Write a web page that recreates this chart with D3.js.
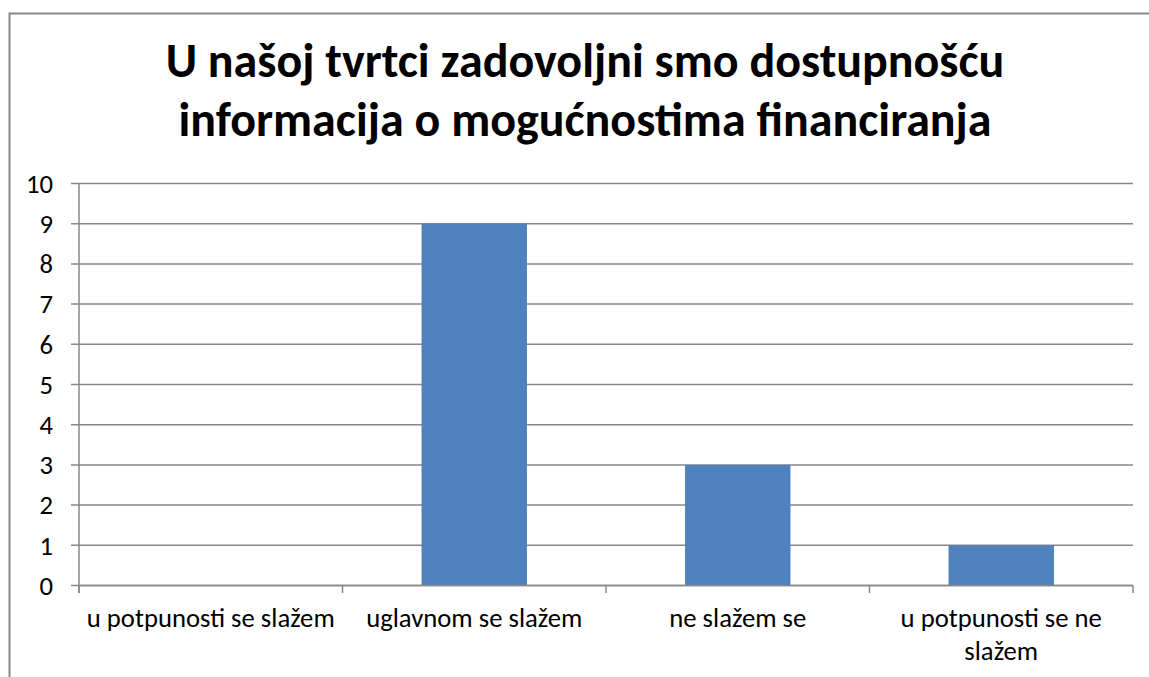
<!DOCTYPE html>
<html>
<head>
<meta charset="utf-8">
<script src="https://cdn.jsdelivr.net/npm/d3@7"></script>
<style>
  html, body { margin: 0; padding: 0; background: #fff; }
  svg { display: block; }
  text { font-family: Carlito, Lato, "Open Sans", sans-serif; fill: #000; }
</style>
</head>
<body>
<svg id="chart" width="1149" height="677"></svg>
<script>
// Survey answers and the number of firms giving each one
const categories = [
  "u potpunosti se slažem",
  "uglavnom se slažem",
  "ne slažem se",
  "u potpunosti se ne slažem"
];
const counts = [0, 9, 3, 1];
const yTicks = [0, 1, 2, 3, 4, 5, 6, 7, 8, 9, 10];
const titleLines = [
  "U našoj tvrtci zadovoljni smo dostupnošću",
  "informacija o mogućnostima financiranja"
];

const svg = d3.select("#chart");
const plot = { left: 79, right: 1133, top: 183.5, bottom: 585.5 };
const gridColor = "#888888";
const labelSize = 26.7;

// Outer chart frame
svg.append("rect")
  .attr("x", 9.5).attr("y", 13.5)
  .attr("width", 1170).attr("height", 700)
  .attr("fill", "none").attr("stroke", gridColor).attr("stroke-width", 2);

// Title
svg.append("g").selectAll("text")
  .data(titleLines)
  .join("text")
  .attr("x", 585)
  .attr("y", (d, i) => 77 + i * 59)
  .attr("text-anchor", "middle")
  .attr("font-weight", "bold")
  .attr("font-size", 48)
  .text(d => d);

const x = d3.scaleBand()
  .domain(categories)
  .range([plot.left, plot.right])
  .paddingInner(0.6)
  .paddingOuter(0.3);

const y = d3.scaleLinear()
  .domain([0, 10])
  .range([plot.bottom, plot.top]);

// Horizontal gridlines
svg.append("g").selectAll("line")
  .data(yTicks)
  .join("line")
  .attr("x1", plot.left - 8).attr("x2", plot.right)
  .attr("y1", d => y(d)).attr("y2", d => y(d))
  .attr("stroke", gridColor).attr("stroke-width", 1.5);

// Y axis line and labels
svg.append("line")
  .attr("x1", plot.left).attr("x2", plot.left)
  .attr("y1", plot.top).attr("y2", plot.bottom + 7.5)
  .attr("stroke", gridColor).attr("stroke-width", 1.5);

svg.append("g").selectAll("text")
  .data(yTicks)
  .join("text")
  .attr("x", 53)
  .attr("y", d => y(d))
  .attr("dy", "0.35em")
  .attr("text-anchor", "end")
  .attr("font-size", labelSize)
  .text(d => d);

// Category boundary ticks below the baseline
const step = x.step();
const bounds = d3.range(categories.length + 1).map(i => plot.left + i * step);
svg.append("g").selectAll("line")
  .data(bounds)
  .join("line")
  .attr("x1", d => d).attr("x2", d => d)
  .attr("y1", plot.bottom).attr("y2", plot.bottom + 7.5)
  .attr("stroke", gridColor).attr("stroke-width", 1.5);

// Bars
svg.append("g").selectAll("rect")
  .data(counts.map((v, i) => ({ c: categories[i], v })))
  .join("rect")
  .attr("x", d => x(d.c))
  .attr("y", d => y(d.v))
  .attr("width", x.bandwidth())
  .attr("height", d => y(0) - y(d.v))
  .attr("fill", "#4f81bd");

// Baseline drawn above bars
svg.append("line")
  .attr("x1", plot.left).attr("x2", plot.right)
  .attr("y1", y(0)).attr("y2", y(0))
  .attr("stroke", gridColor).attr("stroke-width", 1.5);

// Category labels, wrapped to the category width
const maxLabelW = step - 8;
const labels = svg.append("g").selectAll("text")
  .data(categories)
  .join("text")
  .attr("text-anchor", "middle")
  .attr("font-size", labelSize)
  .attr("x", d => x(d) + x.bandwidth() / 2)
  .attr("y", 627);

labels.each(function(d) {
  const t = d3.select(this);
  const words = d.split(" ");
  const lines = [];
  let cur = [];
  const probe = t.append("tspan");
  words.forEach(w => {
    const trial = cur.concat(w).join(" ");
    probe.text(trial);
    if (probe.node().getComputedTextLength() > maxLabelW && cur.length) {
      lines.push(cur.join(" "));
      cur = [w];
    } else {
      cur.push(w);
    }
  });
  lines.push(cur.join(" "));
  probe.remove();
  lines.forEach((ln, i) => {
    t.append("tspan")
      .attr("x", t.attr("x"))
      .attr("dy", i === 0 ? 0 : 33)
      .text(ln);
  });
});
</script>
</body>
</html>
